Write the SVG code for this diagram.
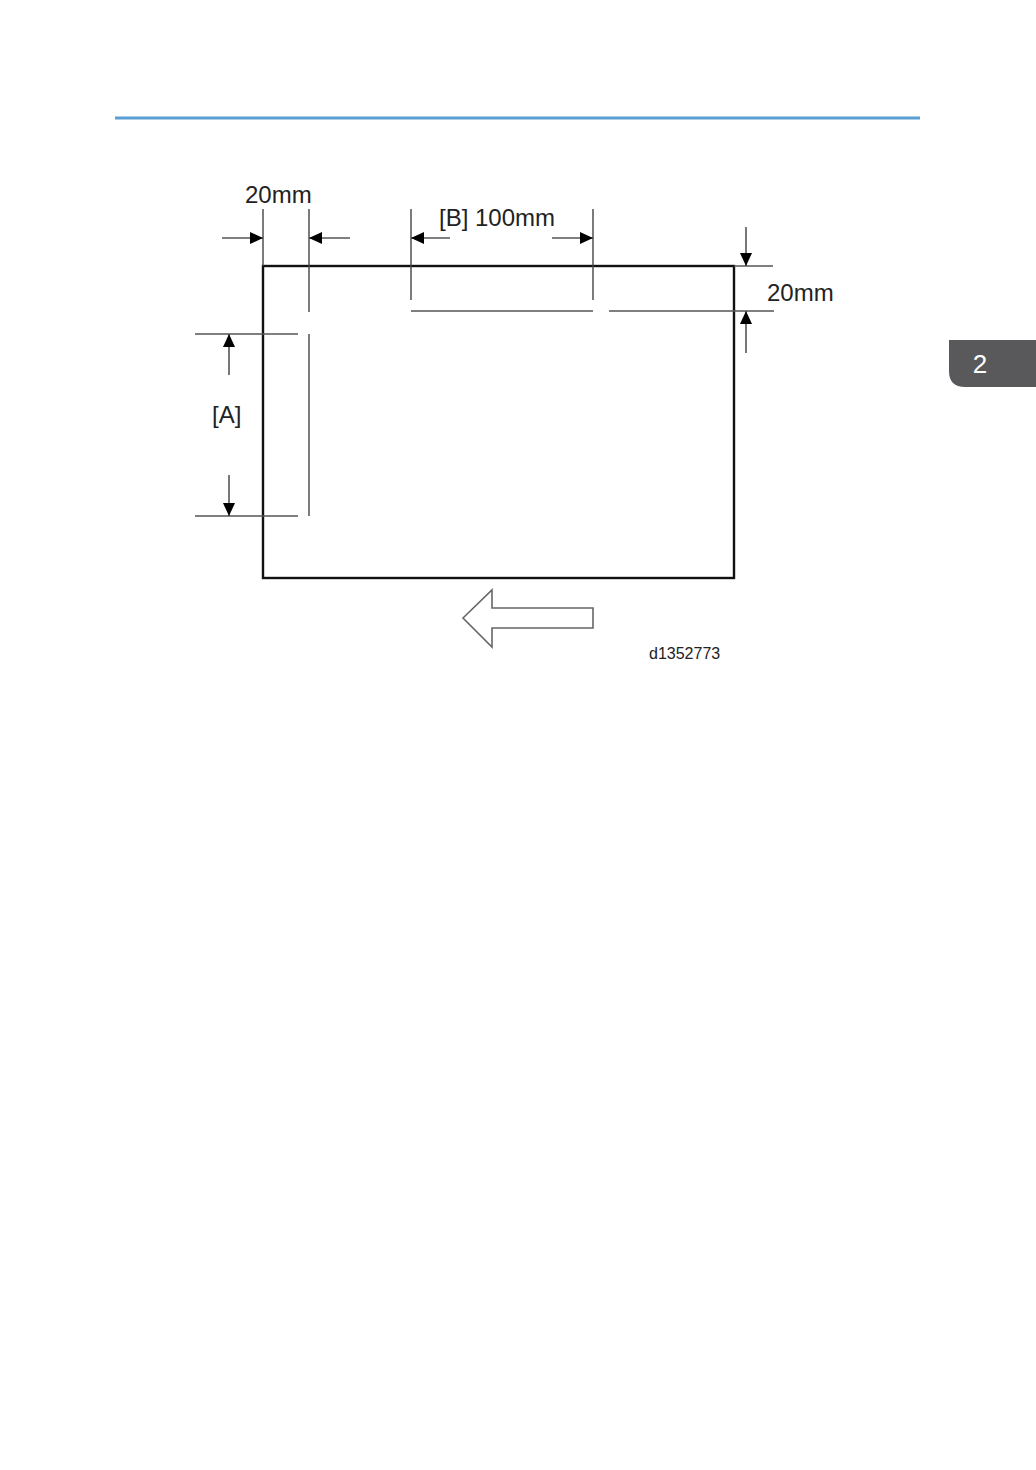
<svg xmlns="http://www.w3.org/2000/svg" width="1036" height="1470" viewBox="0 0 1036 1470">
<style>
.dim{stroke:#555;stroke-width:1.6;fill:none}
.ext{stroke:#444;stroke-width:1.4;fill:none}
.lbl{font-family:"Liberation Sans",Arial,sans-serif;fill:#222}
</style>
<defs>
<marker id="ah" markerWidth="13" markerHeight="12" refX="13" refY="6" orient="auto" markerUnits="userSpaceOnUse" viewBox="0 0 13 12">
<path d="M0,0 L13,6 L0,12 Z" fill="#000"/>
</marker>
</defs>
<rect width="1036" height="1470" fill="#fff"/>
<line x1="115" y1="118" x2="920" y2="118" stroke="#5b9fd4" stroke-width="3"/>
<g id="tab">
<path d="M949,340 H1036 V387 H965 Q949,387 949,371 Z" fill="#59595b"/>
<text x="980" y="373" font-family="'Liberation Sans',Arial,sans-serif" font-size="26" fill="#fff" text-anchor="middle">2</text>
</g>
<g id="sheet">
<rect x="263" y="266" width="471" height="312" fill="none" stroke="#111" stroke-width="2.4"/>
</g>
<g id="connectors">
<line class="ext" x1="263" y1="209" x2="263" y2="266"/>
<line class="ext" x1="309" y1="209" x2="309" y2="312"/>
<line class="ext" x1="309" y1="334" x2="309" y2="516"/>
<line class="dim" x1="222" y1="238" x2="263" y2="238" marker-end="url(#ah)"/>
<line class="dim" x1="350" y1="238" x2="309" y2="238" marker-end="url(#ah)"/>
<line class="ext" x1="411" y1="209" x2="411" y2="300"/>
<line class="ext" x1="593" y1="209" x2="593" y2="300"/>
<line class="dim" x1="450" y1="238" x2="411" y2="238" marker-end="url(#ah)"/>
<line class="dim" x1="552" y1="238" x2="593" y2="238" marker-end="url(#ah)"/>
<line class="dim" x1="411" y1="311" x2="593" y2="311"/>
<line class="dim" x1="609" y1="311" x2="774" y2="311"/>
<line class="dim" x1="734" y1="266" x2="773" y2="266"/>
<line class="dim" x1="746" y1="227" x2="746" y2="266" marker-end="url(#ah)"/>
<line class="dim" x1="746" y1="353" x2="746" y2="311" marker-end="url(#ah)"/>
<line class="dim" x1="195" y1="334" x2="298" y2="334"/>
<line class="dim" x1="195" y1="516" x2="298" y2="516"/>
<line class="dim" x1="229" y1="375" x2="229" y2="334" marker-end="url(#ah)"/>
<line class="dim" x1="229" y1="475" x2="229" y2="516" marker-end="url(#ah)"/>
</g>
<g id="feed-arrow">
<path d="M463,618 L492,590 L492,608 L593,608 L593,628 L492,628 L492,647 Z" fill="#fff" stroke="#666" stroke-width="1.6"/>
</g>
<g id="labels">
<text class="lbl" x="245" y="203" font-size="24">20mm</text>
<text class="lbl" x="439" y="226" font-size="24">[B] 100mm</text>
<text class="lbl" x="767" y="301" font-size="24">20mm</text>
<text class="lbl" x="212" y="423" font-size="24">[A]</text>
<text class="lbl" x="649" y="659" font-size="16">d1352773</text>
</g>
</svg>
